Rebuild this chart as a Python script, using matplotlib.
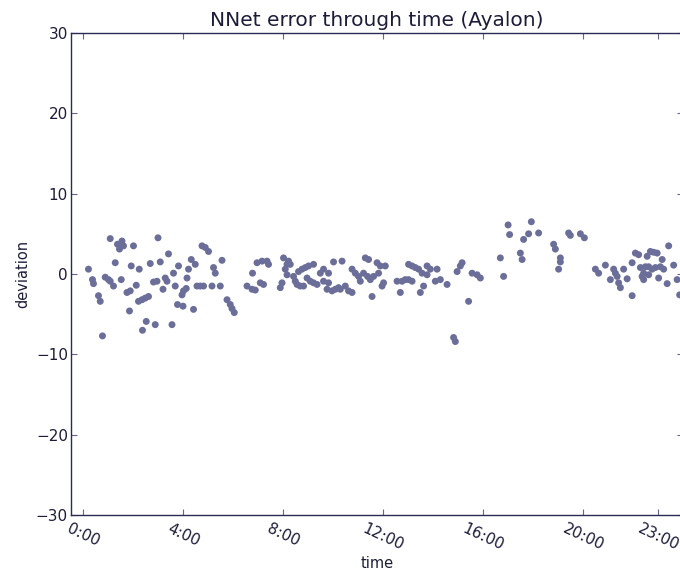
import matplotlib
matplotlib.use("Agg")
import matplotlib.pyplot as plt

# time of day (hours) and deviation values
hours = [
    0.21, 0.37, 0.41, 0.61, 0.68, 0.77, 0.88, 1.01, 1.08, 1.08, 1.28, 1.37, 1.55, 1.61, 1.45,
    1.21, 1.52, 1.88, 1.75, 1.92, 2.24, 2.01, 1.85, 2.12, 2.21, 2.35, 2.48, 2.61, 2.52, 2.88,
    2.37, 2.68, 2.81, 2.95, 2.99, 3.08, 3.28, 3.35, 3.19, 3.41, 3.55, 3.61, 3.68, 3.81, 3.77,
    3.99, 4.01, 4.12, 3.95, 4.15, 4.21, 4.32, 4.48, 4.41, 4.55, 4.68, 4.81, 4.75, 4.88, 5.01,
    5.21, 5.28, 5.15, 5.48, 5.55, 5.75, 5.88, 5.95, 6.04,
    6.55, 6.75, 6.88, 6.77, 6.95, 7.15, 7.35, 7.41, 7.08, 7.21, 7.88, 7.95, 8.01, 8.15,
    8.21, 8.28, 8.08, 8.15, 8.41, 8.48, 8.55, 8.68, 8.81, 8.61, 8.75, 8.88, 9.01, 9.21,
    8.95, 9.08, 9.21, 9.35, 9.48, 9.61, 9.81, 9.61, 9.81, 9.75, 9.95, 10.08, 10.21, 10.01,
    10.35, 10.28, 10.48, 10.61, 10.75, 10.75, 10.88, 11.01, 11.08, 11.28, 11.41, 11.21, 11.37,
    11.48, 11.61, 11.75, 11.88, 12.08, 11.81, 11.55, 12.01, 11.95, 12.55, 12.75, 12.88, 13.01,
    13.15, 12.68, 13.01, 13.15, 13.28, 13.41, 13.55, 13.48, 13.61, 13.75, 13.88, 14.15, 13.75,
    14.08, 14.28, 14.55, 14.81, 14.88, 15.15, 15.08, 14.95, 15.41, 15.55, 15.75, 15.88, 16.68,
    16.81, 16.99, 17.05, 17.48, 17.55, 17.61, 17.81, 17.92, 18.21, 18.81, 18.88, 19.08, 19.08,
    19.01, 19.41, 19.48, 19.88, 20.04, 20.48, 20.61, 20.88, 21.08, 21.21, 21.28, 21.41, 21.48,
    21.35, 21.61, 21.75, 21.95, 21.95, 22.08, 22.21, 22.28, 22.41, 22.55, 22.68, 22.81, 22.95,
    22.48, 22.61, 22.75, 22.88, 23.08, 23.21, 23.15, 23.41, 23.61, 23.01, 23.35, 23.75, 23.85,
    22.41, 22.61, 22.35,
]
deviation = [
    0.6, -0.7, -1.2, -2.7, -3.4, -7.7, -0.4, -0.7, -0.9, 4.4, 1.4, 3.7, 4.1, 3.5, 3.1,
    -1.5, -0.7, -2.1, -2.3, 1.0, 0.6, 3.5, -4.6, -1.4, -3.4, -3.2, -3.0, -2.8, -5.9, -6.3,
    -7.0, 1.3, -1.0, -0.9, 4.5, 1.5, -0.5, -0.9, -1.9, 2.5, -6.3, 0.1, -1.5, 1.0, -3.8,
    -4.0, -2.1, -1.8, -2.6, -0.5, 0.6, 1.8, 1.2, -4.4, -1.5, -1.5, -1.5, 3.5, 3.3, 2.8,
    0.8, 0.1, -1.5, -1.5, 1.7, -3.2, -3.8, -4.3, -4.8,
    -1.5, -1.9, -2.0, 0.1, 1.4, 1.6, 1.6, 1.2, -1.1, -1.3, -1.7, -1.1, 2.0, 1.2,
    1.6, 1.2, 0.6, -0.1, -0.3, -0.9, -1.3, -1.5, -1.5, 0.3, 0.6, 0.8, 1.0, 1.2,
    -0.5, -0.9, -1.1, -1.3, 0.1, 0.6, 0.1, -0.9, -1.1, -1.9, -2.1, -1.9, -1.7, 1.5,
    1.6, -1.9, -1.5, -2.1, -2.3, 0.6, 0.1, -0.3, -0.9, 2.0, 1.8, 0.1, -0.3,
    -0.7, -0.3, 1.4, 1.0, 1.0, 0.1, -2.8, -1.1, -1.5, -0.9, -0.9, -0.7, -0.7,
    -0.9, -2.3, 1.2, 1.0, 0.8, 0.6, 0.1, -2.3, -1.5, 1.0, 0.6, 0.6, -0.1,
    -0.9, -0.7, -1.3, -7.9, -8.4, 1.4, 1.0, 0.3, -3.4, 0.1, -0.1, -0.5, 2.0,
    -0.3, 6.1, 4.9, 2.6, 1.8, 4.3, 5.0, 6.5, 5.1, 3.7, 3.1, 2.0, 1.5,
    0.6, 5.1, 4.8, 5.0, 4.5, 0.6, 0.1, 1.1, -0.7, 0.6, 0.1, -1.1, -1.7,
    -0.3, 0.6, -0.6, -2.7, 1.4, 2.6, 2.4, 0.8, 0.1, 2.2, 2.8, 2.7, 2.6,
    0.9, 0.9, 0.6, 0.8, 0.9, 0.6, 1.8, 3.5, 1.1, -0.5, -1.2, -0.7, -2.6,
    -0.7, -0.1, -0.3,
]

tick_hours = [0, 4, 8, 12, 16, 20, 23]
tick_labels = ["0:00", "4:00", "8:00", "12:00", "16:00", "20:00", "23:00"]
y_ticks = [-30, -20, -10, 0, 10, 20, 30]

text_color = "#1c1c3a"
dot_color = "#6b6e98"

fig = plt.figure(figsize=(6.8, 5.75), dpi=100)
ax = fig.add_axes([0.104, 0.104, 0.901, 0.839])

ax.scatter(hours, deviation, s=25, color=dot_color, edgecolors="none", zorder=3)

ax.set_xlim(-0.5, 24.0)
ax.set_ylim(-30, 30)
ax.set_xticks(tick_hours)
ax.set_xticklabels(tick_labels, rotation=-25, ha="center", fontsize=11, color=text_color)
ax.set_yticks(y_ticks)
ax.set_yticklabels(["\u221230", "\u221220", "\u221210", "0", "10", "20", "30"], fontsize=11,
                   color=text_color)
ax.tick_params(direction="in", top=True, right=True, length=4, width=0.8,
               colors="#66668a", labelcolor=text_color)
ax.tick_params(axis="x", pad=4)
ax.tick_params(axis="y", pad=2)

for sp in ax.spines.values():
    sp.set_color("#2a2a55")
    sp.set_linewidth(1.0)

ax.set_title("NNet error through time (Ayalon)", fontsize=14.5, color=text_color, pad=5)
ax.set_xlabel("time", fontsize=10.5, color=text_color, labelpad=2)
ax.set_ylabel("deviation", fontsize=10.5, color=text_color, labelpad=4)

fig.savefig("out.png", dpi=100)
